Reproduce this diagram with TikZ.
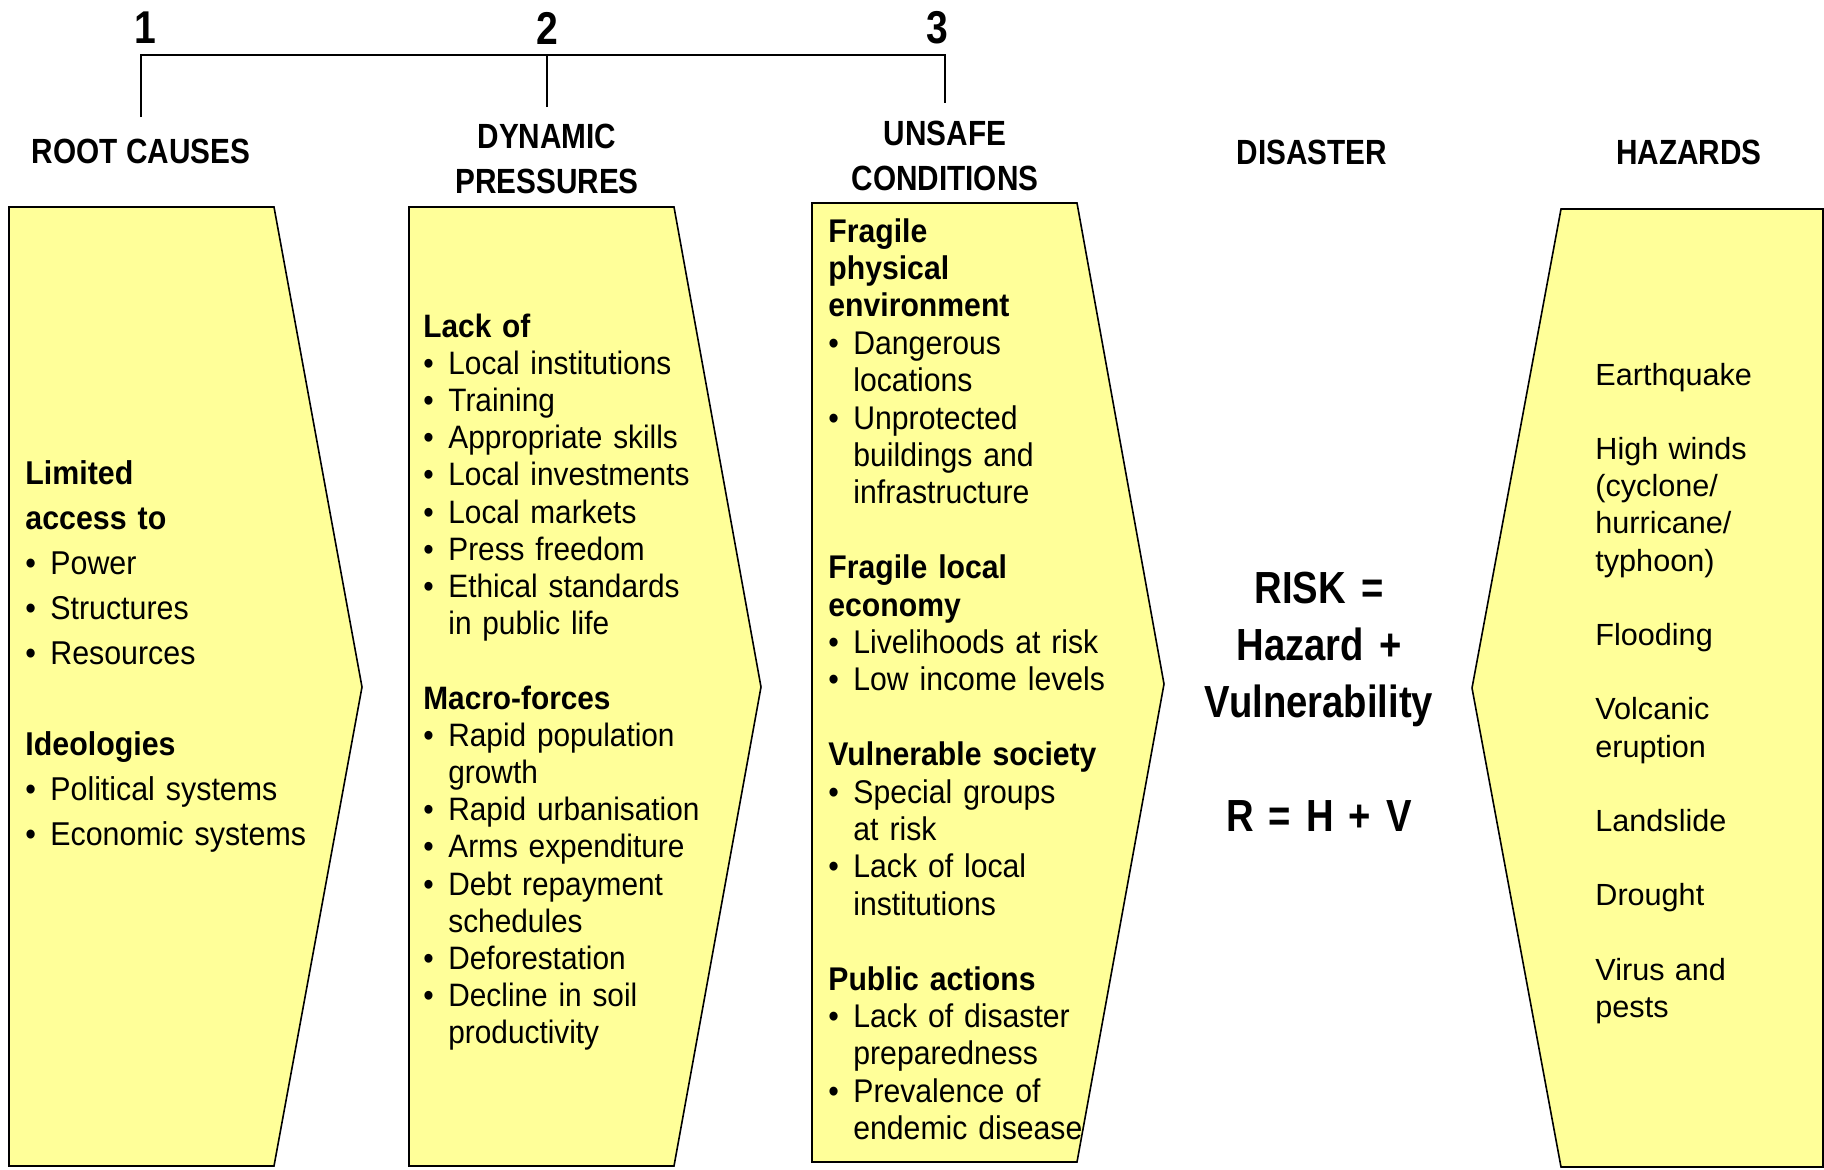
\documentclass[tikz,border=0pt]{standalone}
\usepackage{fontspec}
\setmainfont{Liberation Sans}
\newfontfamily\cfont{Liberation Sans}[FakeStretch=0.92]
\newfontfamily\nfont{Liberation Sans}[FakeStretch=0.85]
\definecolor{chevfill}{HTML}{FFFF99}
\newcommand{\bul}{\makebox[12.5pt][l]{\textbullet}}
\newcommand{\cnt}{\hspace*{12.5pt}}
\tikzstyle{chev} = [draw, fill=chevfill, line width=0.8pt, line join=miter]
\tikzstyle{num} = [inner sep=0pt, font=\nfont\bfseries\fontsize{23}{27}\selectfont]
\tikzstyle{hdr} = [inner sep=0pt, align=center, font=\nfont\bfseries\fontsize{17.5}{22.5}\selectfont]
\tikzstyle{body} = [inner sep=0pt, anchor=base west, align=left]

\begin{document}
\begin{tikzpicture}[x=0.5pt,y=-0.5pt]
\useasboundingbox (0,0) rectangle (1824,1169);
% chevrons
\draw[chev] (9,207) -- (274,207) -- (362,687) -- (274,1166) -- (9,1166) -- cycle;
\draw[chev] (409,207) -- (674,207) -- (761,687) -- (674,1166) -- (409,1166) -- cycle;
\draw[chev] (812,203) -- (1077,203) -- (1164,684) -- (1077,1162) -- (812,1162) -- cycle;
\draw[chev] (1823,209) -- (1561,209) -- (1472,688) -- (1561,1167) -- (1823,1167) -- cycle;
% numbers and headings
\node[num] (n1) at (145,28) {1};
\node[num] (n2) at (547,28) {2};
\node[num] (n3) at (937,28) {3};
\node[hdr] (root) at (141,151) {ROOT CAUSES};
\node[hdr] (dyn) at (547,159) {DYNAMIC\\PRESSURES};
\node[hdr] (unsafe) at (945,156) {UNSAFE\\CONDITIONS};
\node[hdr] (dis) at (1312,152) {DISASTER};
\node[hdr] (haz) at (1689,152) {HAZARDS};
% bracket
\coordinate (b1) at (141,117);
\coordinate (b2) at (547,107);
\coordinate (b3) at (945,103);
\coordinate (top) at (945,55);
\draw[line width=0.75pt] (b1) |- (top) -- (b3);
\draw[line width=0.75pt] (b2) -- (b2 |- top);
% box texts
\node[body, text width=150pt, font=\cfont\fontsize{16.5}{22.6}\selectfont] (rc) at (25,484)
  {\textbf{Limited}\\ \textbf{access to}\\ \bul Power\\ \bul Structures\\ \bul Resources\\[\baselineskip]
   \textbf{Ideologies}\\ \bul Political systems\\ \bul Economic systems};
\node[body, text width=150pt, font=\cfont\fontsize{16.2}{18.6}\selectfont] (dp) at (423,337)
  {\textbf{Lack of}\\ \bul Local institutions\\ \bul Training\\ \bul Appropriate skills\\
   \bul Local investments\\ \bul Local markets\\ \bul Press freedom\\ \bul Ethical standards\\
   \cnt in public life\\[\baselineskip]
   \textbf{Macro-forces}\\ \bul Rapid population\\ \cnt growth\\ \bul Rapid urbanisation\\
   \bul Arms expenditure\\ \bul Debt repayment\\ \cnt schedules\\ \bul Deforestation\\
   \bul Decline in soil\\ \cnt productivity};
\node[body, text width=160pt, font=\cfont\fontsize{16.4}{18.7}\selectfont] (uc) at (828,242)
  {\textbf{Fragile}\\ \textbf{physical}\\ \textbf{environment}\\ \bul Dangerous\\ \cnt locations\\
   \bul Unprotected\\ \cnt buildings and\\ \cnt infrastructure\\[\baselineskip]
   \textbf{Fragile local}\\ \textbf{economy}\\ \bul Livelihoods at risk\\ \bul Low income levels\\[\baselineskip]
   \textbf{Vulnerable society}\\ \bul Special groups\\ \cnt at risk\\ \bul Lack of local\\ \cnt institutions\\[\baselineskip]
   \textbf{Public actions}\\ \bul Lack of disaster\\ \cnt preparedness\\ \bul Prevalence of\\ \cnt endemic disease};
\node[body, text width=120pt, font=\fontsize{15.3}{18.6}\selectfont] (hz) at (1595,385)
  {Earthquake\\[\baselineskip] High winds\\ (cyclone/\\ hurricane/\\ typhoon)\\[\baselineskip]
   Flooding\\[\baselineskip] Volcanic\\ eruption\\[\baselineskip] Landslide\\[\baselineskip]
   Drought\\[\baselineskip] Virus and\\ pests};
% risk
\node[inner sep=0pt, anchor=base, align=center, text width=170pt,
  font=\nfont\bfseries\fontsize{22.5}{28.5}\selectfont] (risk) at (1319,603)
  {RISK =\\ Hazard +\\ Vulnerability\\[\baselineskip] R = H + V};
\end{tikzpicture}
\end{document}
